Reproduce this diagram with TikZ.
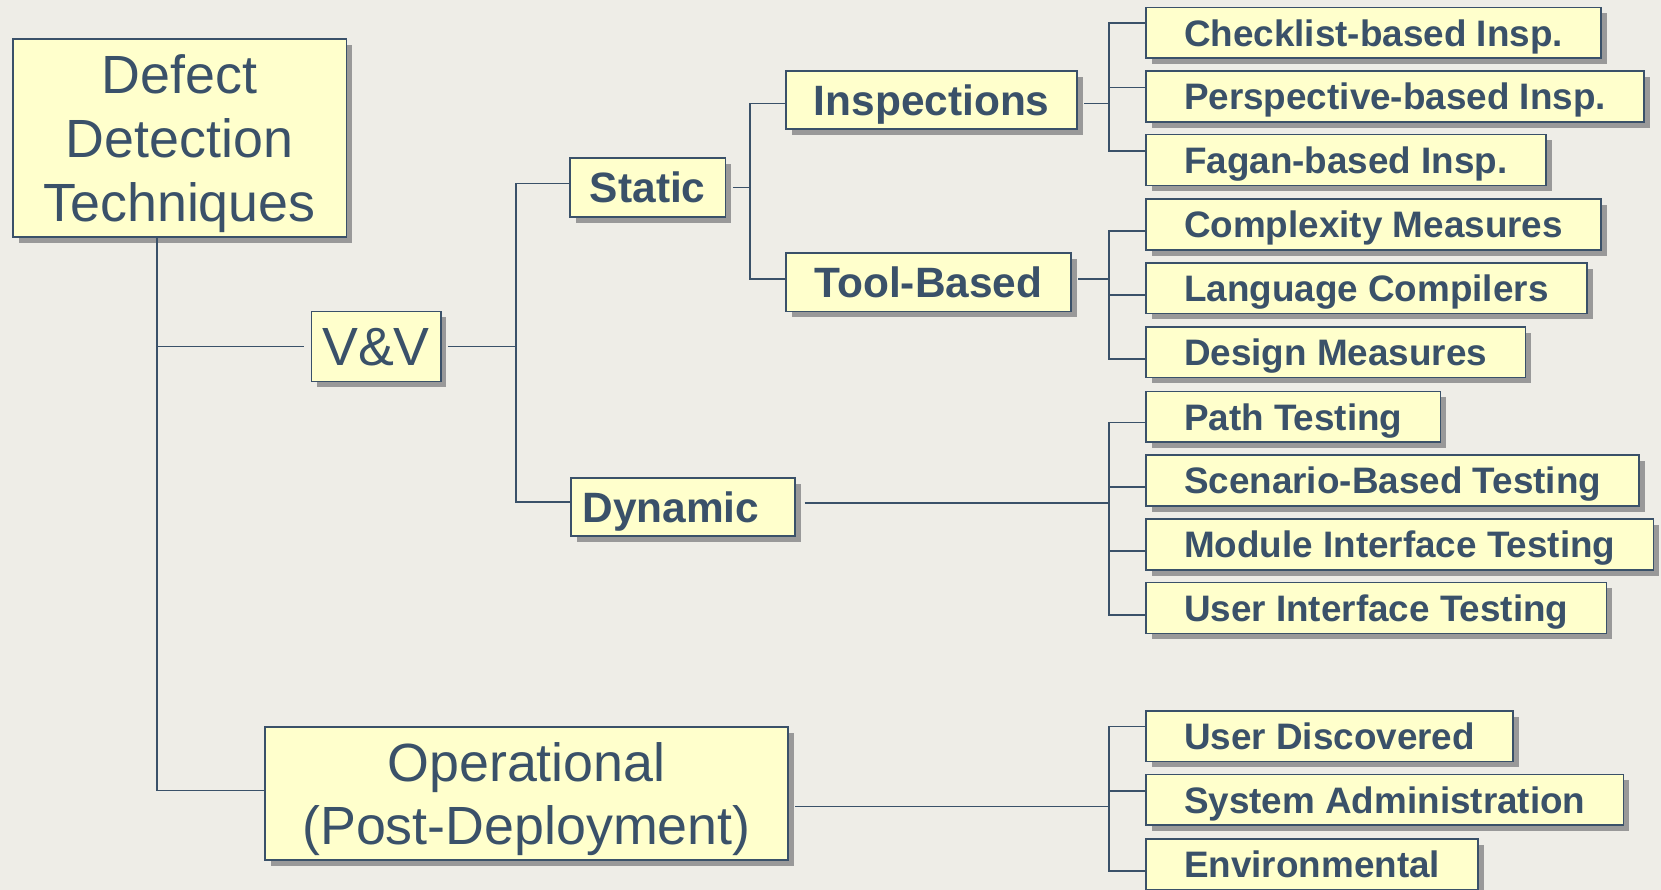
\documentclass[tikz,border=0pt]{standalone}
\usepackage{fontspec}
\setmainfont{Liberation Sans}
\usetikzlibrary{shadows}

\definecolor{bgcol}{HTML}{EEEDE7}
\definecolor{boxfill}{HTML}{FFFFCC}
\definecolor{ink}{HTML}{3A5169}
\definecolor{shade}{HTML}{999999}

\begin{document}
\begin{tikzpicture}[
    x=0.02cm, y=-0.02cm,
    box/.style={draw=ink, line width=0.9pt, fill=boxfill, text=ink, align=center, inner sep=0pt,
        drop shadow={shadow xshift=0.11cm, shadow yshift=-0.11cm, fill=shade, opacity=1}},
    big/.style={box, font=\fontsize{28.9}{34.3}\selectfont, text depth=0pt},
    mid/.style={box, font=\fontsize{22.8}{27}\selectfont\bfseries, text height=16.3pt, text depth=0pt},
    leaf/.style={box, anchor=west, font=\fontsize{19.8}{24}\selectfont\bfseries, inner xsep=0.72cm,
        minimum height=0.96cm, text height=14.2pt, text depth=0pt},
    link/.style={draw=ink, line width=0.8pt},
    fromshadow/.style={shorten <=0.12cm}
]
\useasboundingbox (0,0) rectangle (1568,840);
\fill[bgcol] (0,0) rectangle (1568,840);

% Upper levels
\node[big, minimum width=6.3cm, minimum height=3.74cm] (root) at (169.5,130.5) {Defect\\Detection\\Techniques};
\node[big, minimum width=2.44cm, minimum height=1.32cm] (vv) at (355,327) {V\&V};
\node[big, minimum width=9.88cm, minimum height=2.52cm] (oper) at (497,749) {Operational\\(Post-Deployment)};
\node[mid, minimum width=2.94cm, minimum height=1.12cm] (static) at (611.5,177) {Static};
\node[mid, anchor=west, text width=3.8cm, align=left, inner xsep=0.22cm, minimum height=1.1cm] (dynamic) at (538,478.5) {Dynamic};
\node[mid, minimum width=5.5cm, minimum height=1.1cm] (insp) at (879.5,94.5) {Inspections};
\node[mid, minimum width=5.38cm, minimum height=1.1cm] (tool) at (876.5,266.5) {Tool-Based};

% Leaves
\node[leaf] (chk) at (1081,31) {Checklist-based Insp.};
\node[leaf] (per) at (1081,91) {Perspective-based Insp.};
\node[leaf] (fag) at (1081,151) {Fagan-based Insp.};
\node[leaf] (cpx) at (1081,212) {Complexity Measures};
\node[leaf] (lang) at (1081,272) {Language Compilers};
\node[leaf] (des) at (1081,332.5) {Design Measures};
\node[leaf] (ptest) at (1081,393.5) {Path Testing};
\node[leaf] (scen) at (1081,453.5) {Scenario-Based Testing};
\node[leaf] (mod) at (1081,514) {Module Interface Testing};
\node[leaf] (uit) at (1081,574) {User Interface Testing};
\node[leaf] (ud) at (1081,695) {User Discovered};
\node[leaf] (sa) at (1081,755) {System Administration};
\node[leaf] (env) at (1081,816) {Environmental};

% Branch points
\coordinate (j0) at (148,0);
\coordinate (j1) at (487,0);
\coordinate (j2) at (708,0);
\coordinate (b1) at (1047,0);

% Trunk
\draw[link] (root.south -| j0) |- ([yshift=0.06cm]oper.west);
\draw[link, shorten >=0.12cm] (j0 |- vv.west) -- (vv.west);

% V&V split
\draw[link, fromshadow] (vv.east) -- (vv.east -| j1);
\draw[link] ([yshift=0.08cm]static.west) -| ([yshift=0.09cm]dynamic.west -| j1) -- ([yshift=0.09cm]dynamic.west);

% Static split
\draw[link, fromshadow] (static.east) -- (static.east -| j2);
\draw[link] ([yshift=-0.06cm]insp.west) -| ([yshift=0.06cm]tool.west -| j2) -- ([yshift=0.06cm]tool.west);

% Inspections
\draw[link, fromshadow] ([yshift=-0.06cm]insp.east) -- ([yshift=-0.06cm]insp.east -| b1);
\draw[link] ([yshift=0.19cm]chk.west) -| ([yshift=0.17cm]fag.west -| b1) -- ([yshift=0.17cm]fag.west);
\draw[link] ([yshift=0.17cm]per.west) -- ([yshift=0.17cm]per.west -| b1);

% Tool-Based
\draw[link, fromshadow] ([yshift=0.06cm]tool.east) -- ([yshift=0.06cm]tool.east -| b1);
\draw[link] ([yshift=-0.12cm]cpx.west) -| ([yshift=-0.13cm]des.west -| b1) -- ([yshift=-0.13cm]des.west);
\draw[link] ([yshift=-0.13cm]lang.west) -- ([yshift=-0.13cm]lang.west -| b1);

% Dynamic
\draw[link, shorten <=0.16cm] ([yshift=0.07cm]dynamic.east) -- ([yshift=0.07cm]dynamic.east -| b1);
\draw[link] ([yshift=-0.11cm]ptest.west) -| ([yshift=-0.13cm]uit.west -| b1) -- ([yshift=-0.13cm]uit.west);
\draw[link] ([yshift=-0.12cm]scen.west) -- ([yshift=-0.12cm]scen.west -| b1);
\draw[link] ([yshift=-0.12cm]mod.west) -- ([yshift=-0.12cm]mod.west -| b1);

% Operational
\draw[link, fromshadow] ([yshift=-0.25cm]oper.east) -- ([yshift=-0.25cm]oper.east -| b1);
\draw[link] ([yshift=0.18cm]ud.west) -| ([yshift=-0.12cm]env.west -| b1) -- ([yshift=-0.12cm]env.west);
\draw[link] ([yshift=0.17cm]sa.west) -- ([yshift=0.17cm]sa.west -| b1);

\end{tikzpicture}
\end{document}
